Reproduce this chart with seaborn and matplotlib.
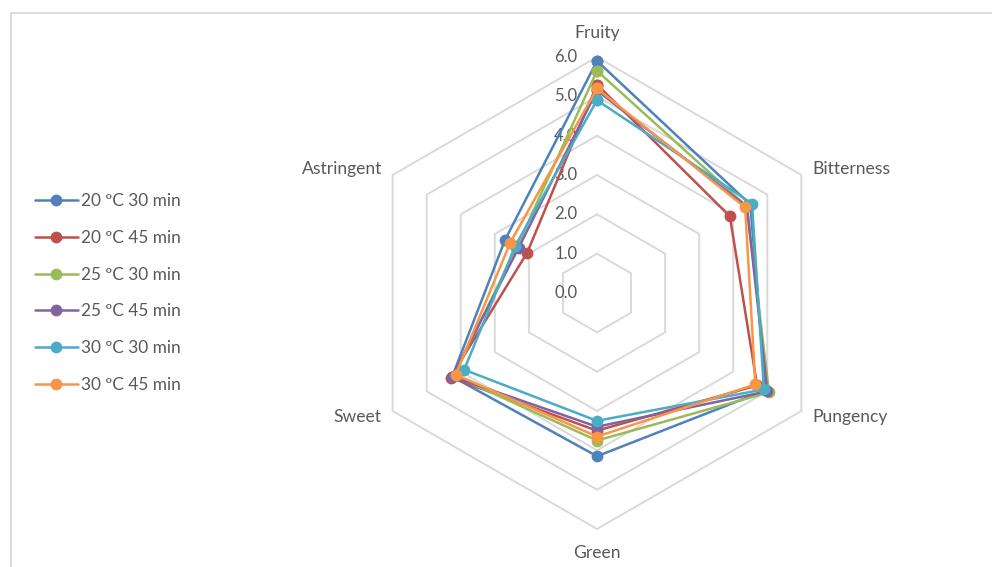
import numpy as np
import pandas as pd
import matplotlib
matplotlib.use("Agg")
import matplotlib.pyplot as plt
from matplotlib.lines import Line2D
from matplotlib.patches import Rectangle
import seaborn as sns

# Sensory attributes (clockwise from the top)
categories = ["Fruity", "Bitterness", "Pungency", "Green", "Sweet", "Astringent"]

# Panel scores per processing condition
series_names = ["20 ºC 30 min", "20 ºC 45 min", "25 ºC 30 min",
                "25 ºC 45 min", "30 ºC 30 min", "30 ºC 45 min"]
s20_30 = [5.9, 4.5, 4.95, 4.15, 4.25, 2.7]
s20_45 = [5.3, 3.9, 4.7, 3.5, 4.3, 2.05]
s25_30 = [5.65, 4.4, 5.05, 3.75, 4.2, 2.35]
s25_45 = [5.15, 4.4, 5.0, 3.4, 4.25, 2.3]
s30_30 = [4.9, 4.55, 4.9, 3.25, 3.9, 2.4]
s30_45 = [5.2, 4.35, 4.65, 3.65, 4.15, 2.55]
series_values = [s20_30, s20_45, s25_30, s25_45, s30_30, s30_45]

tick_values = [0, 1, 2, 3, 4, 5, 6]
tick_labels = ["0.0", "1.0", "2.0", "3.0", "4.0", "5.0", "6.0"]

colors = ["#4F81BD", "#C0504D", "#9BBB59", "#8064A2", "#4BACC6", "#F79646"]
grid_color = "#D9D9D9"
text_color = "#595959"

sns.set_style("white")
plt.rcParams["font.family"] = ["Lato", "DejaVu Sans"]

W, H, DPI = 992, 567, 100
fig = plt.figure(figsize=(W / DPI, H / DPI), dpi=DPI)
ax = fig.add_axes([0, 0, 1, 1])
ax.set_axis_off()

# Map one score unit to pixels so the chart sits in the right spot
cx, cy, unit = 597, 293, 236 / 6
ax.set_xlim(-cx / unit, (W - cx) / unit)
ax.set_ylim(-(H - cy) / unit, cy / unit)

n = len(categories)
angles = np.pi / 2 - np.arange(n) * 2 * np.pi / n


def to_xy(vals):
    v = np.asarray(vals, dtype=float)
    return v * np.cos(angles), v * np.sin(angles)


# Hexagonal grid rings
for t in tick_values[1:]:
    gx, gy = to_xy([t] * n)
    ax.plot(np.append(gx, gx[0]), np.append(gy, gy[0]),
            color=grid_color, lw=1.4, zorder=1)

# Tick labels along the Fruity axis
for t, lab in zip(tick_values, tick_labels):
    ax.text(-0.5, t, lab, ha="right", va="center",
            fontsize=12, color=text_color, zorder=2)

# Category labels
for cat, a in zip(categories, angles):
    c, s = np.cos(a), np.sin(a)
    if abs(c) < 1e-6:
        ha, x, y = "center", 0, (6.6 if s > 0 else -6.6)
    elif c > 0:
        ha, x, y = "left", 5.47, 3.14 * np.sign(s)
    else:
        ha, x, y = "right", -5.47, 3.14 * np.sign(s)
    ax.text(x, y, cat, ha=ha, va="center", fontsize=12.6,
            color=text_color, zorder=2)

# Long table of closed polygons, one per condition
rows = []
for name, vals in zip(series_names, series_values):
    xs, ys = to_xy(vals)
    for i in list(range(n)) + [0]:
        rows.append({"condition": name, "x": xs[i], "y": ys[i]})
df = pd.DataFrame(rows)

sns.lineplot(data=df, x="x", y="y", hue="condition", palette=colors,
             sort=False, estimator=None, marker="o", markersize=8.5,
             markeredgewidth=0, linewidth=1.8, legend=False, ax=ax,
             zorder=3)

# Legend on the left
handles = [Line2D([0], [0], color=c, lw=1.8, marker="o", markersize=8.5,
                  markeredgewidth=0) for c in colors]
fig.legend(handles, series_names, loc="center left",
           bbox_to_anchor=(28 / W, 1 - 293 / H), frameon=False,
           fontsize=12.4, labelcolor=text_color, handlelength=2.5,
           handletextpad=0.2, labelspacing=1.2, borderaxespad=0)

# Thin chart-area frame
fig.patches.append(Rectangle((11 / W, -0.1), 1.2, 1 - 13 / H + 0.1,
                             transform=fig.transFigure, fill=False,
                             edgecolor=grid_color, lw=1.3))

fig.savefig("out.png", dpi=DPI)
